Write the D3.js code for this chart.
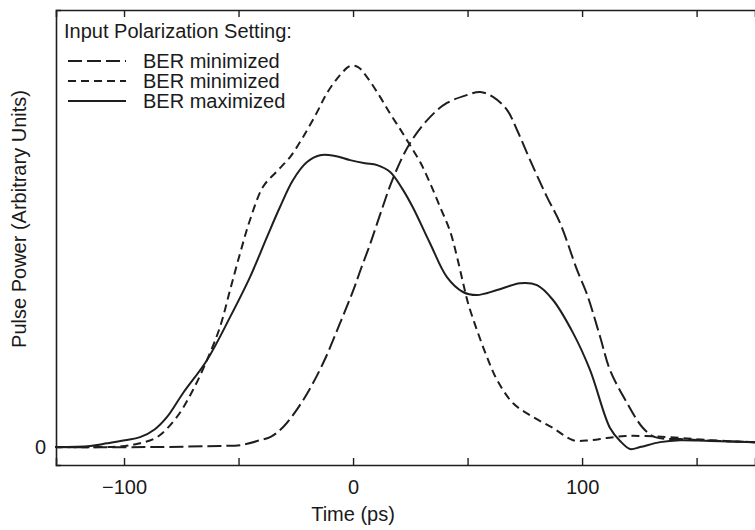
<!doctype html>
<html>
<head>
  <meta charset="utf-8">
  <script src="https://d3js.org/d3.v7.min.js"></script>
  <style>
    body { margin: 0; background: #fff; }
    text { font-family: "Liberation Sans", Arial, sans-serif; fill: #1a1a1a; }
  </style>
</head>
<body>
  <script>

    // time axis (ps) and pulse power (arbitrary units, 1 = tallest peak)
    var timeLong = [-130, -88.6, -58.1, -49.3, -40.6, -36.2, -30.6, -21.8, -13.1, -5.7, 0, 3.1, 7.4, 11.8, 17.5, 24.9, 33.6, 41.0, 49.8, 55.5, 61.1, 67.2, 71.6, 77.3, 84.7, 90.4, 97.8, 102.2, 107.9, 112.2, 119.7, 126.6, 131.9, 142.8, 160.3, 175.5];
    var powerLong = [0, 0, 0.003, 0.005, 0.018, 0.026, 0.052, 0.123, 0.220, 0.325, 0.410, 0.462, 0.532, 0.610, 0.706, 0.798, 0.866, 0.903, 0.924, 0.932, 0.919, 0.885, 0.832, 0.753, 0.656, 0.588, 0.465, 0.400, 0.289, 0.202, 0.115, 0.050, 0.026, 0.021, 0.016, 0.013];

    var timeShort = [-130, -110.5, -99.6, -93.0, -85.6, -76.9, -69.9, -63.8, -58.1, -53.7, -49.3, -45.0, -39.3, -33.2, -27.5, -21.8, -15.7, -11.4, -5.7, -1.3, 2.2, 6.1, 11.8, 16.2, 20.5, 24.9, 29.3, 33.6, 38.0, 42.4, 45.4, 48.0, 50.2, 54.1, 58.5, 62.9, 69.9, 78.6, 87.3, 96.1, 103.5, 110.9, 118.8, 127.5, 138.4, 155.9, 175.5];
    var powerShort = [0, 0, 0.003, 0.010, 0.026, 0.079, 0.150, 0.228, 0.315, 0.412, 0.509, 0.596, 0.683, 0.724, 0.761, 0.814, 0.879, 0.929, 0.976, 1.000, 0.997, 0.971, 0.919, 0.875, 0.835, 0.792, 0.748, 0.693, 0.630, 0.566, 0.499, 0.432, 0.378, 0.307, 0.236, 0.176, 0.115, 0.079, 0.050, 0.018, 0.018, 0.024, 0.029, 0.029, 0.026, 0.018, 0.013];

    var timeMax = [-130, -114.8, -107.4, -99.6, -93.0, -86.5, -81.2, -74.2, -63.8, -53.7, -45.0, -37.6, -31.9, -26.2, -20.1, -14.4, -7.9, -1.3, 5.2, 10.5, 16.2, 21.6, 26.2, 33.6, 41.0, 48.0, 54.1, 62.9, 72.9, 80.3, 87.3, 96.1, 103.5, 112.2, 116.6, 121.0, 125.3, 134.1, 142.8, 155.9, 175.5];
    var powerMax = [0, 0.003, 0.010, 0.018, 0.026, 0.047, 0.079, 0.142, 0.228, 0.341, 0.446, 0.551, 0.630, 0.701, 0.748, 0.766, 0.764, 0.753, 0.745, 0.740, 0.722, 0.677, 0.628, 0.535, 0.446, 0.407, 0.399, 0.412, 0.430, 0.425, 0.386, 0.299, 0.202, 0.050, 0.016, -0.005, 0, 0.013, 0.018, 0.016, 0.013];

    var legendTitle = "Input Polarization Setting:";
    var seriesNames = ["BER minimized", "BER minimized", "BER maximized"];
    var xTickValues = [-100, -50, 0, 50, 100, 150];
    var xTickLabels = [-100, 0, 100];

    var width = 755, height = 530;
    var margin = {top: 10, left: 56, right: 0, bottom: 65};

    var svg = d3.select("body").append("svg")
        .attr("width", width)
        .attr("height", height);

    var x = d3.scaleLinear()
        .domain([-129.7, 175.5])
        .range([margin.left, width - margin.right]);

    var y = d3.scaleLinear()
        .domain([-0.047, 1.147])
        .range([height - margin.bottom, margin.top]);

    var ink = "#1e1e1e";

    // series
    var series = [
      {t: timeLong, p: powerLong, dash: "14,5"},
      {t: timeShort, p: powerShort, dash: "8,5"},
      {t: timeMax, p: powerMax, dash: null}
    ];

    var line = d3.line()
        .x(function (d) { return x(d[0]); })
        .y(function (d) { return y(d[1]); })
        .curve(d3.curveCatmullRom.alpha(0.5));

    series.forEach(function (s) {
      svg.append("path")
          .datum(d3.zip(s.t, s.p))
          .attr("d", line)
          .attr("fill", "none")
          .attr("stroke", ink)
          .attr("stroke-width", 2)
          .attr("stroke-dasharray", s.dash);
    });

    // axes
    var fmt = function (d) { return xTickLabels.indexOf(d) >= 0 ? d3.format("d")(d) : ""; };

    var axisBottomG = svg.append("g")
        .attr("transform", "translate(0," + y.range()[0] + ")")
        .call(d3.axisBottom(x).tickValues(xTickValues).tickSize(-7).tickPadding(15).tickFormat(fmt));

    var axisTopG = svg.append("g")
        .attr("transform", "translate(0," + margin.top + ")")
        .call(d3.axisTop(x).tickValues(xTickValues).tickSize(-7).tickFormat(""));

    var axisLeftG = svg.append("g")
        .attr("transform", "translate(" + margin.left + ",0)")
        .call(d3.axisLeft(y).tickValues([0]).tickSize(-5).tickPadding(10).tickFormat(d3.format("d")));

    [axisBottomG, axisTopG, axisLeftG].forEach(function (g) {
      g.select(".domain").attr("stroke", ink).attr("stroke-width", 1.6);
      g.selectAll(".tick line").attr("stroke", ink).attr("stroke-width", 1.4);
      g.selectAll(".tick text").attr("font-size", 20).attr("fill", ink)
          .style("font-family", "'Liberation Sans', Arial, sans-serif");
    });

    // axis titles
    svg.append("text")
        .attr("x", x(0))
        .attr("y", 521)
        .attr("text-anchor", "middle")
        .attr("font-size", 20)
        .text("Time (ps)");

    svg.append("text")
        .attr("transform", "translate(26," + 219 + ") rotate(-90)")
        .attr("text-anchor", "middle")
        .attr("font-size", 20)
        .text("Pulse Power (Arbitrary Units)");

    // legend
    var legend = svg.append("g");

    legend.append("text")
        .attr("x", 64)
        .attr("y", 38)
        .attr("font-size", 20)
        .text(legendTitle);

    var rowY = [61, 81, 101];
    series.forEach(function (s, i) {
      legend.append("line")
          .attr("x1", 68).attr("x2", 126)
          .attr("y1", rowY[i]).attr("y2", rowY[i])
          .attr("stroke", ink)
          .attr("stroke-width", 2)
          .attr("stroke-dasharray", s.dash);
      legend.append("text")
          .attr("x", 143)
          .attr("y", rowY[i] + 7)
          .attr("font-size", 20)
          .text(seriesNames[i]);
    });

  </script>
</body>
</html>
